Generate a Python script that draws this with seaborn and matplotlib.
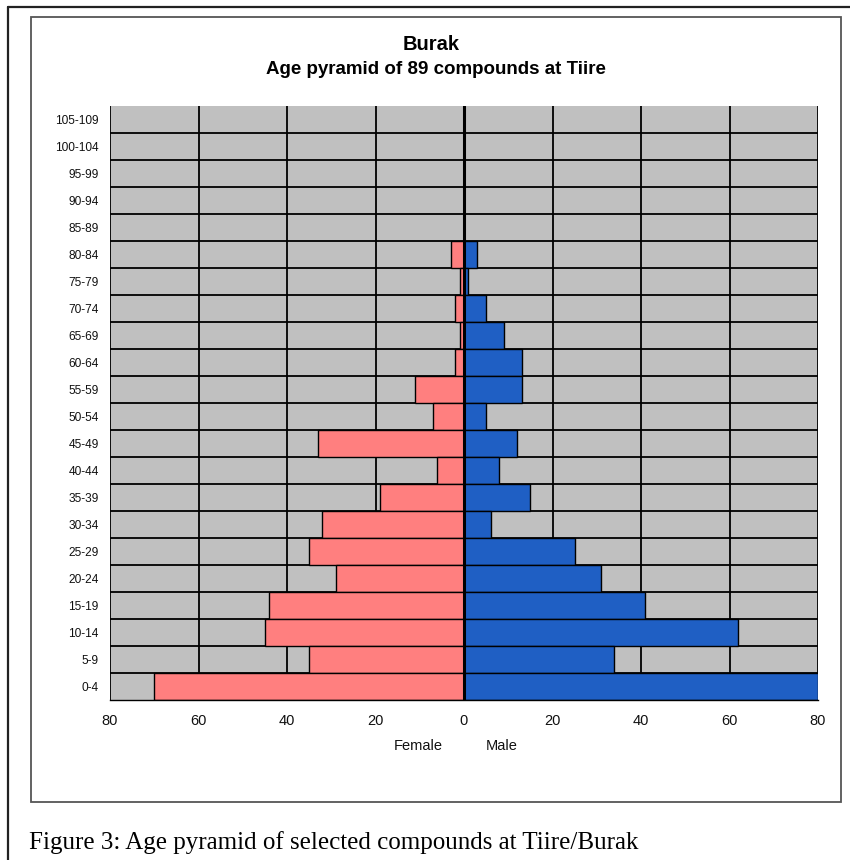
import matplotlib
matplotlib.use("Agg")
import matplotlib.pyplot as plt
from matplotlib.lines import Line2D
from matplotlib.patches import Rectangle
import numpy as np
import pandas as pd
import seaborn as sns

# ---- data ----
age_groups = ["105-109", "100-104", "95-99", "90-94", "85-89", "80-84", "75-79",
              "70-74", "65-69", "60-64", "55-59", "50-54", "45-49", "40-44",
              "35-39", "30-34", "25-29", "20-24", "15-19", "10-14", "5-9", "0-4"]
female = [0, 0, 0, 0, 0, 3, 1, 2, 1, 2, 11, 7, 33, 6, 19, 32, 35, 29, 44, 45, 35, 70]
male = [0, 0, 0, 0, 0, 3, 1, 5, 9, 13, 13, 5, 12, 8, 15, 6, 25, 31, 41, 62, 34, 80]
x_ticks = [-80, -60, -40, -20, 0, 20, 40, 60, 80]
x_tick_labels = ["80", "60", "40", "20", "0", "20", "40", "60", "80"]
title = "Burak"
subtitle = "Age pyramid of 89 compounds at Tiire"
caption = "Figure 3: Age pyramid of selected compounds at Tiire/Burak"

df = pd.DataFrame({
    "age": age_groups * 2,
    "value": [-v for v in female] + male,
    "sex": ["Female"] * len(age_groups) + ["Male"] * len(age_groups),
})

sns.set_theme(style="white")
plt.rcParams["font.family"] = ["Liberation Sans", "DejaVu Sans"]

W, H = 850, 860
fig = plt.figure(figsize=(W / 100, H / 100), dpi=100)
fig.patch.set_facecolor("white")

def fx(px):
    return px / W

def fy(py):
    return 1 - py / H

ax = fig.add_axes([fx(110), fy(700), fx(818) - fx(110), fy(106) - fy(700)])
ax.set_facecolor("#C0C0C0")

sns.barplot(data=df, y="age", x="value", hue="sex", order=age_groups,
            palette={"Female": "#FF7F7F", "Male": "#1F5FC4"}, saturation=1,
            dodge=False, width=1.0, edgecolor="black", linewidth=1.0,
            legend=False, ax=ax, orient="h", zorder=3)

ax.set_xlim(-80, 80)
ax.set_ylim(len(age_groups) - 0.5, -0.5)
ax.set_xticks(x_ticks)
ax.set_xticklabels(x_tick_labels)
ax.set_yticks(np.arange(0.5, len(age_groups) - 1, 1.0), minor=True)
ax.set_axisbelow(True)
ax.grid(False)
ax.grid(axis="x", which="major", color="black", linewidth=1.3, zorder=1)
ax.grid(axis="y", which="minor", color="black", linewidth=1.3, zorder=1)
ax.axvline(0, color="black", linewidth=2.2, zorder=6)

for s in ["left", "top", "right"]:
    ax.spines[s].set_visible(False)
ax.spines["bottom"].set_color("black")
ax.spines["bottom"].set_linewidth(1.0)
ax.spines["bottom"].set_zorder(7)

ax.tick_params(axis="x", which="major", length=4, width=1, color="black",
               direction="out", labelsize=10.5, labelcolor="#111111", pad=6)
ax.tick_params(axis="y", which="both", length=0, labelsize=8.6,
               labelcolor="#111111", pad=8)
ax.set_xlabel("")
ax.set_ylabel("")

# titles
fig.text(fx(431), fy(45), title, ha="center", va="center",
         fontsize=14.5, fontweight="bold", color="black")
fig.text(fx(436), fy(70), subtitle, ha="center", va="center",
         fontsize=13.5, fontweight="bold", color="black")

# axis side labels
fig.text(fx(418), fy(746), "Female", ha="center", va="center",
         fontsize=10.5, color="#111111")
fig.text(fx(502), fy(746), "Male", ha="center", va="center",
         fontsize=10.5, color="#111111")

# inner chart frame
fig.add_artist(Rectangle((fx(31), fy(802)), fx(841) - fx(31), fy(17) - fy(802),
                         transform=fig.transFigure, fill=False,
                         edgecolor="#555555", linewidth=1.3))
# outer frame (cut at right and bottom)
fig.add_artist(Line2D([fx(8), 1.0], [fy(7), fy(7)], transform=fig.transFigure,
                      color="#222222", linewidth=1.6))
fig.add_artist(Line2D([fx(8), fx(8)], [fy(7), 0.0], transform=fig.transFigure,
                      color="#222222", linewidth=1.6))

# caption
fig.text(fx(29), fy(843), caption, ha="left", va="center",
         fontsize=18, family=["Liberation Serif", "DejaVu Serif"], color="black")

fig.savefig("out.png", dpi=100)
